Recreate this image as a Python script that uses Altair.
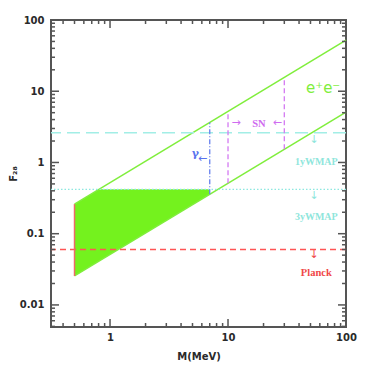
import altair as alt
import pandas as pd

W, H = 295, 307

# axis domains
m_domain = [0.316, 100]
f_domain = [0.0049, 100]

# e+e- band edges
band_m = [0.5, 100]
upper_f = [0.26, 52]
lower_f = [0.0255, 5.1]

# allowed (filled) region
fill_m = [0.5, 0.81, 7.0]
fill_lo = [0.0255, 0.0413, 0.357]
fill_hi = [0.26, 0.42, 0.42]

# horizontal limits
limit_names = ["1yWMAP", "3yWMAP", "Planck"]
limit_f = [2.62, 0.42, 0.06]

# vertical segments
edge_m, edge_lo, edge_hi = [0.5], [0.0255], [0.26]
gamma_m, gamma_lo, gamma_hi = [7.0], [0.357], [3.64]
sn_m, sn_lo, sn_hi = [10, 30], [0.51, 1.53], [5.2, 15.6]

# word labels
lab_text = ["e\u207ae\u207b"]
lab_m = [64]
lab_f = [11.1]

sn_text = ["SN"]
sn_tm = [18.3]
sn_tf = [3.5]

gam_text = ["\u03b3"]
gam_tm = [5.3]
gam_tf = [1.3]

wmap_text = ["1yWMAP", "3yWMAP"]
wmap_tm = [56, 56]
wmap_tf = [1.0, 0.172]

pl_text = ["Planck"]
pl_tm = [56]
pl_tf = [0.028]

# arrows
arrow_text = ["\u2192", "\u2190", "\u2190", "\u2193", "\u2193", "\u2193"]
arrow_m = [11.7, 26.2, 6.1, 53.6, 53.6, 53.6]
arrow_f = [3.6, 3.6, 1.12, 2.07, 0.34, 0.050]
arrow_c = ["#cf6cf0", "#cf6cf0", "#5a72ee", "#8fe6dc", "#8fe6dc", "#f04848"]

# tick values
x_major = [1, 10, 100]
x_minor = [0.4, 0.5, 0.6, 0.7, 0.8, 0.9, 2, 3, 4, 5, 6, 7, 8, 9,
           20, 30, 40, 50, 60, 70, 80, 90]
y_major = [0.01, 0.1, 1, 10, 100]
y_minor = [0.005, 0.006, 0.007, 0.008, 0.009,
           0.02, 0.03, 0.04, 0.05, 0.06, 0.07, 0.08, 0.09,
           0.2, 0.3, 0.4, 0.5, 0.6, 0.7, 0.8, 0.9,
           2, 3, 4, 5, 6, 7, 8, 9,
           20, 30, 40, 50, 60, 70, 80, 90]

LAB_FONT = "DejaVu Sans"
xscale = alt.Scale(type="log", domain=m_domain, nice=False)
yscale = alt.Scale(type="log", domain=f_domain, nice=False)
xaxis = alt.Axis(values=x_major, format="~g", ticks=False, domain=False, grid=False,
                 labelFont=LAB_FONT, labelFontWeight="bold", labelFontSize=10,
                 labelColor="#2a2a2a", labelPadding=5, labelFlush=False,
                 title="M(MeV)", titleFont=LAB_FONT, titleFontWeight="bold",
                 titleFontSize=10, titleColor="#2a2a2a", titlePadding=9)
yaxis = alt.Axis(values=y_major, format="~g", ticks=False, domain=False, grid=False,
                 labelFont=LAB_FONT, labelFontWeight="bold", labelFontSize=10,
                 labelColor="#2a2a2a", labelPadding=7, labelFlush=False,
                 title="F\u2082\u2088", titleFont="DejaVu Sans", titleFontWeight="bold",
                 titleFontSize=10, titleColor="#2a2a2a", titlePadding=1)


def X(field="M"):
    return alt.X(f"{field}:Q", scale=xscale, axis=xaxis)


def Y(field="F"):
    return alt.Y(f"{field}:Q", scale=yscale, axis=yaxis)


layers = []

# filled region
fill_df = pd.DataFrame({"M": fill_m, "lo": fill_lo, "hi": fill_hi})
layers.append(alt.Chart(fill_df).mark_area(color="#74f21e", opacity=1).encode(
    x=X(), y=Y("lo"), y2="hi:Q"))

# band lines
band_df = pd.DataFrame({
    "M": band_m + band_m,
    "F": upper_f + lower_f,
    "k": ["up", "up", "lo", "lo"],
})
layers.append(alt.Chart(band_df).mark_line(color="#80ee3c", strokeWidth=1.5).encode(
    x=X(), y=Y(), detail="k:N"))

# horizontal limits
styles = {
    "1yWMAP": dict(color="#a2eee6", strokeDash=[13, 6], strokeWidth=1.5),
    "3yWMAP": dict(color="#8de8e0", strokeDash=[1.5, 2], strokeWidth=1.2),
    "Planck": dict(color="#ff5555", strokeDash=[6, 4], strokeWidth=1.5),
}
for n, f in zip(limit_names, limit_f):
    d = pd.DataFrame({"F": [f]})
    layers.append(alt.Chart(d).mark_rule(**styles[n]).encode(y=Y()))


def vseg(ms, los, his, **kw):
    d = pd.DataFrame({"M": ms, "lo": los, "hi": his})
    return alt.Chart(d).mark_rule(**kw).encode(x=X(), y=Y("lo"), y2="hi:Q")


layers.append(vseg(edge_m, edge_lo, edge_hi, color="#ee6a6a", strokeWidth=1.5))
layers.append(vseg(gamma_m, gamma_lo, gamma_hi, color="#6680ee", strokeWidth=1.3,
                   strokeDash=[5, 2, 1, 2]))
layers.append(vseg(sn_m, sn_lo, sn_hi, color="#d47af2", strokeWidth=1.3,
                   strokeDash=[5, 3]))


def texts(t, ms, fs, color, size, weight="bold", font="Liberation Serif"):
    d = pd.DataFrame({"t": t, "M": ms, "F": fs})
    return alt.Chart(d).mark_text(color=color, fontSize=size, fontWeight=weight,
                                  font=font).encode(x=X(), y=Y(), text="t:N")


layers.append(texts(lab_text, lab_m, lab_f, "#80ee3c", 15, "normal", "DejaVu Sans"))
layers.append(texts(sn_text, sn_tm, sn_tf, "#cf6cf0", 10.5))
layers.append(texts(gam_text, gam_tm, gam_tf, "#5a72ee", 11, "bold", "DejaVu Serif"))
layers.append(texts(wmap_text, wmap_tm, wmap_tf, "#8fe6dc", 10))
layers.append(texts(pl_text, pl_tm, pl_tf, "#f04848", 10.5))

arrow_df = pd.DataFrame({"t": arrow_text, "M": arrow_m, "F": arrow_f, "c": arrow_c})
layers.append(alt.Chart(arrow_df).mark_text(fontSize=11, font="DejaVu Sans").encode(
    x=X(), y=Y(), text="t:N", color=alt.Color("c:N", scale=None)))

# inward ticks on all four sides
TICK = "#555"
for vals, ln in ((x_major, 8), (x_minor, 4)):
    d = pd.DataFrame({"M": vals})
    layers.append(alt.Chart(d).mark_rule(color=TICK, strokeWidth=1.5).encode(
        x=X(), y=alt.value(H), y2=alt.value(H - ln)))
    layers.append(alt.Chart(d).mark_rule(color=TICK, strokeWidth=1.5).encode(
        x=X(), y=alt.value(0), y2=alt.value(ln)))
for vals, ln in ((y_major, 8), (y_minor, 4)):
    d = pd.DataFrame({"F": vals})
    layers.append(alt.Chart(d).mark_rule(color=TICK, strokeWidth=1.5).encode(
        y=Y(), x=alt.value(0), x2=alt.value(ln)))
    layers.append(alt.Chart(d).mark_rule(color=TICK, strokeWidth=1.5).encode(
        y=Y(), x=alt.value(W), x2=alt.value(W - ln)))

chart = alt.layer(*layers).properties(
    width=W, height=H,
    autosize=alt.AutoSizeParams(type="none"),
    padding={"left": 43, "top": 12, "right": 12, "bottom": 40},
    background="white",
).configure_view(stroke="#555", strokeWidth=2)

chart.save("out.html", embed_options={"renderer": "svg", "actions": False})
